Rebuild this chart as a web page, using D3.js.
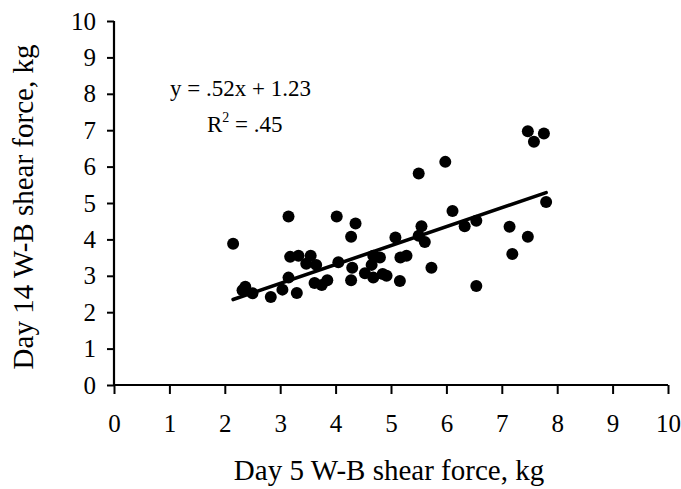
<!DOCTYPE html>
<html>
<head>
<meta charset="utf-8">
<script src="https://cdn.jsdelivr.net/npm/d3@7"></script>
<style>
  body { margin: 0; background: #fff; }
  text { font-family: 'Liberation Serif', 'Times New Roman', serif; fill: #000; }
</style>
</head>
<body>
<div class="scatter"></div>
<script>
// Day 5 shear force (x) and day 14 shear force (y)
const day5 = [2.15, 2.32, 2.37, 2.50, 2.83, 3.04, 3.15, 3.30, 3.15, 3.18, 3.33, 3.47, 3.55, 3.65,
  3.62, 3.75, 3.85, 4.02, 4.05, 4.36, 4.28, 4.30, 4.28, 4.53, 4.68, 4.68, 4.65, 4.85, 4.80, 4.92,
  5.08, 5.17, 5.28, 5.16, 5.50, 5.55, 5.61, 5.50, 5.98, 6.11, 6.33, 6.54, 5.73, 6.54, 7.14, 7.19,
  7.47, 7.80, 7.47, 7.76, 7.58];
const day14 = [3.88, 2.60, 2.70, 2.52, 2.42, 2.62, 2.95, 2.53, 4.63, 3.52, 3.55, 3.33, 3.55, 3.30,
  2.80, 2.75, 2.88, 4.63, 3.37, 4.44, 4.07, 3.22, 2.88, 3.07, 2.95, 3.55, 3.30, 3.05, 3.50, 3.00,
  4.05, 3.50, 3.55, 2.86, 4.10, 4.36, 3.93, 5.81, 6.13, 4.78, 4.36, 4.51, 3.22, 2.72, 4.35, 3.60,
  4.07, 5.03, 6.97, 6.91, 6.68];
const xTicks = [0, 1, 2, 3, 4, 5, 6, 7, 8, 9, 10];
const yTicks = [0, 1, 2, 3, 4, 5, 6, 7, 8, 9, 10];
const slope = 0.52;
const intercept = 1.23;

const svgWidth = 681;
const svgHeight = 489;

const margin = { top: 21, right: 13, bottom: 104, left: 114 };
const width = svgWidth - margin.left - margin.right;
const height = svgHeight - margin.top - margin.bottom;

const svg = d3.select('.scatter').append('svg')
  .attr('width', svgWidth)
  .attr('height', svgHeight);

const chartGroup = svg.append('g')
  .attr('transform', `translate(${margin.left}, ${margin.top})`);

const xLinearScale = d3.scaleLinear().domain([0, 10]).range([0, width]);
const yLinearScale = d3.scaleLinear().domain([0, 10]).range([height, 0]);

// axes
const bottomAxis = d3.axisBottom(xLinearScale).tickValues(xTicks).tickSize(9).tickPadding(20);
const leftAxis = d3.axisLeft(yLinearScale).tickValues(yTicks).tickSize(7).tickPadding(11);

const xAxis = chartGroup.append('g')
  .attr('transform', `translate(0, ${height})`)
  .call(bottomAxis);
const yAxis = chartGroup.append('g').call(leftAxis);

[xAxis, yAxis].forEach((ax) => {
  ax.select('.domain').attr('stroke', '#000').attr('stroke-width', 2.2);
  ax.selectAll('.tick line').attr('stroke', '#000').attr('stroke-width', 2);
  ax.selectAll('.tick text')
    .style('font-family', "'Liberation Serif', serif")
    .style('font-size', '25px')
    .attr('fill', '#000');
});
xAxis.select('.domain').attr('d', `M0,0H${width}`);
yAxis.select('.domain').attr('d', `M0,${height}V0`);

// points
const data = day5.map((d, i) => ({ x: d, y: day14[i] }));
chartGroup.selectAll('circle')
  .data(data)
  .enter()
  .append('circle')
  .attr('cx', (d) => xLinearScale(d.x))
  .attr('cy', (d) => yLinearScale(d.y))
  .attr('r', 6)
  .attr('fill', '#000');

// trend line over the data range
const xMin = d3.min(day5);
const xMax = d3.max(day5);
chartGroup.append('line')
  .attr('x1', xLinearScale(xMin))
  .attr('y1', yLinearScale(slope * xMin + intercept))
  .attr('x2', xLinearScale(xMax))
  .attr('y2', yLinearScale(slope * xMax + intercept))
  .attr('stroke', '#000')
  .attr('stroke-width', 3.6)
  .attr('stroke-linecap', 'round');

// equation text
svg.append('text')
  .attr('x', 170)
  .attr('y', 96)
  .style('font-size', '23px')
  .text('y = .52x + 1.23');

const r2 = svg.append('text')
  .attr('x', 207)
  .attr('y', 132)
  .style('font-size', '23px');
r2.append('tspan').text('R');
r2.append('tspan').attr('dy', -10).style('font-size', '14px').text('2');
r2.append('tspan').attr('dy', 10).text(' = .45');

// axis titles
svg.append('text')
  .attr('x', margin.left + width / 2 - 2)
  .attr('y', 480)
  .attr('text-anchor', 'middle')
  .style('font-size', '29px')
  .text('Day 5 W-B shear force, kg');

svg.append('text')
  .attr('transform', `translate(33, ${margin.top + height / 2 + 4}) rotate(-90)`)
  .attr('text-anchor', 'middle')
  .style('font-size', '29px')
  .text('Day 14 W-B shear force, kg');
</script>
</body>
</html>
